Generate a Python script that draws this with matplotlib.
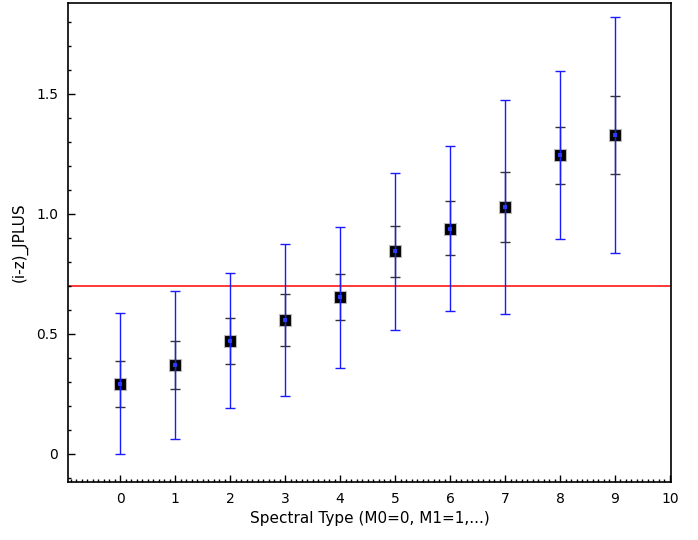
import matplotlib
matplotlib.use("Agg")
import matplotlib.pyplot as plt
from matplotlib.ticker import MultipleLocator, FuncFormatter

plt.rcParams['font.family'] = ['DejaVu Sans']

# Spectral subtype index (M0=0, M1=1, ...)
spectral_type = [0, 1, 2, 3, 4, 5, 6, 7, 8, 9]
# Mean (i-z) colour per subtype
mean_color = [0.293, 0.370, 0.472, 0.557, 0.653, 0.845, 0.939, 1.030, 1.245, 1.329]
# Inner (1-sigma) range
inner_low = [0.196, 0.270, 0.376, 0.450, 0.558, 0.736, 0.828, 0.883, 1.126, 1.165]
inner_high = [0.388, 0.472, 0.568, 0.665, 0.749, 0.951, 1.053, 1.176, 1.363, 1.492]
# Outer (full) range
outer_low = [0.000, 0.061, 0.190, 0.242, 0.358, 0.518, 0.597, 0.585, 0.894, 0.839]
outer_high = [0.586, 0.680, 0.754, 0.874, 0.946, 1.171, 1.283, 1.476, 1.594, 1.819]
# Colour cut
threshold = 0.7

fig = plt.figure(figsize=(6.98, 5.40), dpi=100)
ax = fig.add_axes([0.0974, 0.1074, 0.8640, 0.8870])

inner_err = [[m - lo for m, lo in zip(mean_color, inner_low)],
             [hi - m for m, hi in zip(mean_color, inner_high)]]
outer_err = [[m - lo for m, lo in zip(mean_color, outer_low)],
             [hi - m for m, hi in zip(mean_color, outer_high)]]

ax.axhline(threshold, color='#ff2a2a', lw=1.3, zorder=1)

ax.plot(spectral_type, mean_color, ls='none', marker='s', ms=8,
        mfc='black', mec='#bbbbbb', mew=0.8, zorder=2)
ax.errorbar(spectral_type, mean_color, yerr=inner_err, fmt='none',
            ecolor='#333333', elinewidth=1.0, capsize=3.4, capthick=1.0, zorder=3)
ax.errorbar(spectral_type, mean_color, yerr=outer_err, fmt='none',
            ecolor='#1a1aff', elinewidth=1.0, capsize=3.4, capthick=1.0, zorder=4)
ax.plot(spectral_type, mean_color, ls='none', marker='s', ms=3,
        mfc='#2b3cff', mec='#2b3cff', mew=0, zorder=5)

ax.set_xlim(-0.95, 10.02)
ax.set_ylim(-0.117, 1.879)

ax.xaxis.set_major_locator(MultipleLocator(1))
ax.xaxis.set_minor_locator(MultipleLocator(0.1))
ax.yaxis.set_major_locator(MultipleLocator(0.5))
ax.yaxis.set_minor_locator(MultipleLocator(0.1))
ax.yaxis.set_major_formatter(FuncFormatter(lambda v, p: '0' if abs(v) < 1e-9 else f'{v:.1f}'))

ax.tick_params(which='both', direction='in', top=False, right=False,
               labelsize=10, colors='black', width=1.0)
ax.tick_params(which='major', length=5, pad=7)
ax.tick_params(which='minor', length=2.5)

for s in ax.spines.values():
    s.set_linewidth(1.2)
    s.set_color('black')

ax.set_xlabel('Spectral Type (M0=0, M1=1,...)', fontsize=11, labelpad=4)
ax.set_ylabel('(i-z)_JPLUS', fontsize=11, labelpad=6)

fig.savefig('out.png', dpi=100)
